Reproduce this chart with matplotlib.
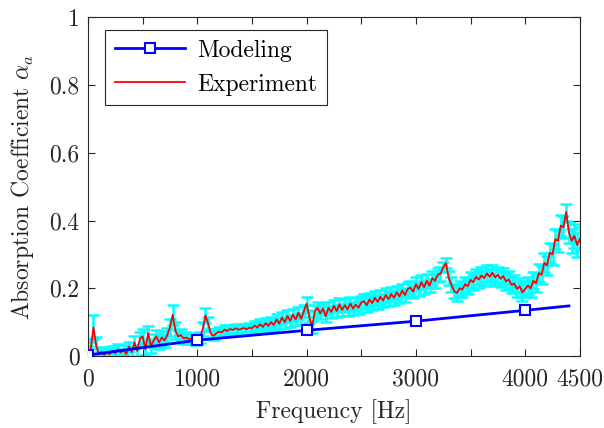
import numpy as np
import matplotlib
matplotlib.use("Agg")
from matplotlib import pyplot as plt

plt.rcParams["font.family"] = "serif"
plt.rcParams["font.serif"] = ["cmr10", "DejaVu Serif"]
plt.rcParams["mathtext.fontset"] = "cm"
plt.rcParams["axes.formatter.use_mathtext"] = True

# modeling result
model_freq = [0, 1000, 2000, 3000, 4000, 4400]
model_alpha = [0.003, 0.047, 0.076, 0.103, 0.135, 0.148]

# measured absorption, 25 Hz steps from 0 to 4500 Hz
exp_freq = np.arange(0, 4501, 25)
exp_alpha = [
    0.012, 0.020, 0.085, 0.030, 0.008, 0.012, 0.004, 0.010, 0.006, 0.015,
    0.008, 0.020, 0.010, 0.018, 0.006, 0.028, 0.012, 0.040, 0.015, 0.052,
    0.058, 0.020, 0.068, 0.030, 0.045, 0.058, 0.040, 0.055, 0.046, 0.062,
    0.085, 0.122, 0.075, 0.058, 0.062, 0.052, 0.055, 0.050, 0.052, 0.048,
    0.050, 0.055, 0.080, 0.120, 0.095, 0.065, 0.060, 0.068, 0.072, 0.070,
    0.078, 0.074, 0.080, 0.077, 0.082, 0.078, 0.080, 0.083, 0.079, 0.084,
    0.082, 0.090, 0.084, 0.094, 0.086, 0.097, 0.089, 0.100, 0.092, 0.108,
    0.096, 0.114, 0.100, 0.118, 0.104, 0.122, 0.108, 0.128, 0.110, 0.132,
    0.155, 0.115, 0.085, 0.132, 0.142, 0.126, 0.140, 0.118, 0.142, 0.130,
    0.148, 0.133, 0.152, 0.136, 0.150, 0.138, 0.155, 0.140, 0.152, 0.143,
    0.158, 0.162, 0.150, 0.167, 0.156, 0.172, 0.160, 0.175, 0.164, 0.180,
    0.168, 0.183, 0.172, 0.188, 0.176, 0.193, 0.180, 0.198, 0.202, 0.190,
    0.212, 0.198, 0.218, 0.203, 0.222, 0.208, 0.230, 0.222, 0.240, 0.243,
    0.262, 0.274, 0.230, 0.210, 0.192, 0.186, 0.200, 0.196, 0.212, 0.206,
    0.225, 0.218, 0.234, 0.226, 0.238, 0.230, 0.244, 0.234, 0.246, 0.232,
    0.240, 0.228, 0.236, 0.220, 0.226, 0.210, 0.214, 0.198, 0.206, 0.188,
    0.198, 0.208, 0.200, 0.222, 0.215, 0.245, 0.240, 0.275, 0.268, 0.305,
    0.300, 0.345, 0.340, 0.385, 0.380, 0.425, 0.365, 0.340, 0.355, 0.328,
    0.345,
]
exp_err = [
    0.018, 0.022, 0.035, 0.025, 0.015, 0.015, 0.012, 0.012, 0.012, 0.014,
    0.012, 0.015, 0.012, 0.014, 0.012, 0.015, 0.014, 0.018, 0.016, 0.020,
    0.022, 0.018, 0.022, 0.020, 0.020, 0.020, 0.018, 0.020, 0.020, 0.022,
    0.025, 0.030, 0.025, 0.020, 0.018, 0.016, 0.016, 0.015, 0.015, 0.015,
    0.015, 0.016, 0.020, 0.022, 0.020, 0.015, 0.013, 0.013, 0.013, 0.013,
    0.013, 0.013, 0.013, 0.013, 0.013, 0.013, 0.013, 0.013, 0.013, 0.013,
    0.014, 0.014, 0.014, 0.014, 0.014, 0.015, 0.015, 0.015, 0.015, 0.016,
    0.016, 0.016, 0.016, 0.017, 0.017, 0.017, 0.017, 0.018, 0.018, 0.018,
    0.020, 0.018, 0.018, 0.018, 0.018, 0.018, 0.018, 0.018, 0.018, 0.018,
    0.018, 0.018, 0.019, 0.019, 0.019, 0.019, 0.019, 0.019, 0.019, 0.019,
    0.020, 0.020, 0.020, 0.020, 0.020, 0.020, 0.020, 0.020, 0.020, 0.020,
    0.020, 0.020, 0.020, 0.020, 0.020, 0.020, 0.020, 0.020, 0.020, 0.020,
    0.020, 0.020, 0.020, 0.020, 0.020, 0.020, 0.020, 0.020, 0.020, 0.020,
    0.015, 0.015, 0.020, 0.022, 0.022, 0.022, 0.022, 0.022, 0.022, 0.022,
    0.024, 0.024, 0.024, 0.024, 0.024, 0.024, 0.024, 0.024, 0.024, 0.024,
    0.024, 0.024, 0.024, 0.024, 0.024, 0.024, 0.024, 0.024, 0.024, 0.024,
    0.024, 0.024, 0.025, 0.025, 0.026, 0.026, 0.027, 0.028, 0.028, 0.030,
    0.030, 0.030, 0.032, 0.032, 0.032, 0.025, 0.032, 0.035, 0.035, 0.035,
    0.035,
]


def main():
    fig = plt.figure(figsize=(6.04, 4.28), dpi=100)
    ax = fig.add_axes([0.1457, 0.168, 0.8143, 0.792])

    ax.errorbar(exp_freq, exp_alpha, yerr=exp_err, fmt="none", ecolor="cyan",
                elinewidth=1.8, capsize=4, capthick=1.8, zorder=1)
    ax.plot(exp_freq, exp_alpha, color="red", lw=1.3, label="Experiment", zorder=2)
    ax.plot(model_freq, model_alpha, color="blue", lw=2.0, marker="s",
            markersize=7, markerfacecolor="white", markeredgecolor="blue",
            markeredgewidth=1.5, markevery=[0, 1, 2, 3, 4], label="Modeling",
            zorder=3)

    ax.set_xlim(0, 4500)
    ax.set_ylim(0, 1)
    xt = np.arange(0, 4501, 500)
    ax.set_xticks(xt)
    ax.set_xticklabels([str(v) if v % 1000 == 0 or v == 4500 else "" for v in xt])
    ax.set_yticks([0, 0.2, 0.4, 0.6, 0.8, 1])
    ax.set_yticklabels(["0", "0.2", "0.4", "0.6", "0.8", "1"])
    ax.tick_params(direction="in", top=True, right=True, labelsize=17,
                   length=5, width=0.8, colors="#262626", labelcolor="#262626")
    ax.tick_params(axis="x", pad=9)
    ax.tick_params(axis="y", pad=6)
    for s in ax.spines.values():
        s.set_color("#262626")
        s.set_linewidth(0.8)

    ax.set_xlabel("Frequency [Hz]", fontsize=17, color="#262626", labelpad=6)
    ax.set_ylabel(r"Absorption Coefficient $\alpha_a$", fontsize=17,
                  color="#262626", labelpad=10)

    handles, labels = ax.get_legend_handles_labels()
    leg = ax.legend(handles[::-1], labels[::-1], loc="upper left",
                    bbox_to_anchor=(0.035, 0.962), borderaxespad=0,
                    fontsize=17, handlelength=3.0, handletextpad=0.5,
                    fancybox=False, edgecolor="#262626", framealpha=1,
                    labelspacing=0.5)
    leg.get_frame().set_linewidth(0.8)

    plt.savefig("out.png", dpi=100)
    plt.close()


if __name__ == "__main__":
    main()
